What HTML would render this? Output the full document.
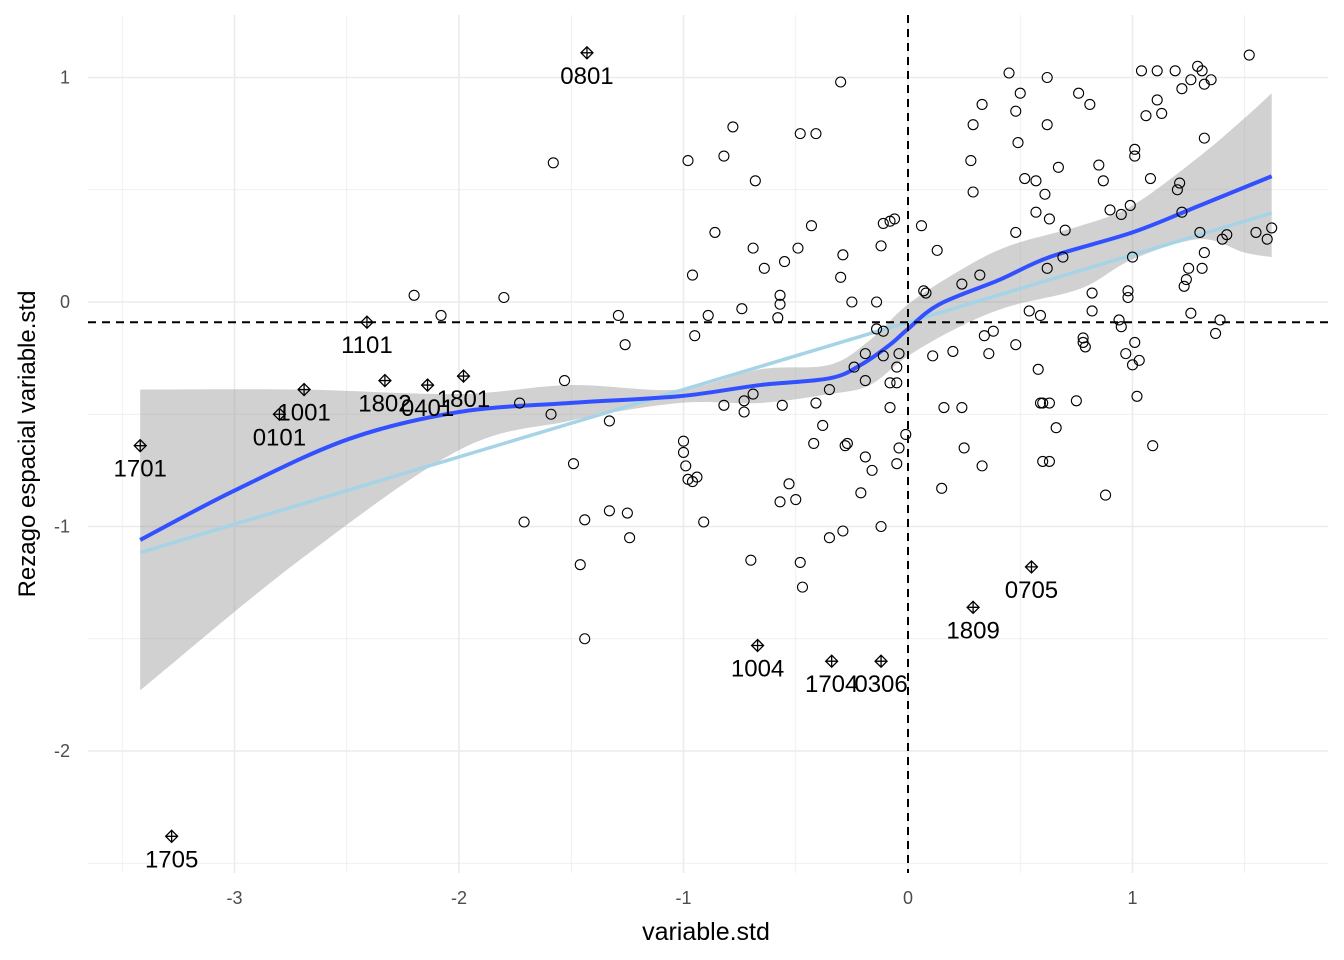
<!DOCTYPE html>
<html><head><meta charset="utf-8">
<style>
body{margin:0;background:#fff;}
svg{display:block;font-family:"Liberation Sans",Arial,sans-serif;}
</style></head>
<body>
<svg id="chart" width="1344" height="960" viewBox="0 0 1344 960" xmlns="http://www.w3.org/2000/svg">
<g id="grid"></g>
<g id="band"></g>
<g id="lines"></g>
<g id="pts"></g>
<g id="axes"></g>
<text x="706" y="940" font-size="25" text-anchor="middle" fill="#000">variable.std</text>
<text x="0" y="0" font-size="24" text-anchor="middle" fill="#000" transform="translate(35,444) rotate(-90)">Rezago espacial variable.std</text>
</svg>
<script>
const xTicks=[-3,-2,-1,0,1];
const yTicks=[1,0,-1,-2];
const ptsX=[-2.20,-2.08,-1.80,-1.58,-1.73,-1.59,-1.53,-1.49,-1.44,-1.46,-1.44,-1.71,-1.33,-1.29,-1.26,-1.25,-1.24,-1.33,-0.98,-0.96,-0.95,-1.00,-1.00,-0.99,-0.98,-0.96,-0.94,-0.91,-0.89,-0.86,-0.82,-0.82,-0.78,-0.74,-0.73,-0.73,-0.69,-0.70,-0.69,-0.68,-0.64,-0.58,-0.57,-0.57,-0.56,-0.57,-0.55,-0.53,-0.50,-0.49,-0.48,-0.47,-0.48,-0.43,-0.41,-0.42,-0.41,-0.38,-0.35,-0.35,-0.30,-0.30,-0.29,-0.29,-0.28,-0.27,-0.25,-0.24,-0.21,-0.19,-0.19,-0.19,-0.16,-0.14,-0.14,-0.12,-0.12,-0.11,-0.11,-0.11,-0.08,-0.08,-0.08,-0.06,-0.05,-0.04,-0.05,-0.04,-0.01,-0.05,0.06,0.07,0.08,0.11,0.13,0.16,0.15,0.20,0.24,0.24,0.25,0.28,0.29,0.29,0.32,0.33,0.34,0.33,0.36,0.38,0.45,0.48,0.48,0.48,0.49,0.50,0.52,0.54,0.57,0.57,0.59,0.58,0.59,0.60,0.60,0.61,0.62,0.62,0.62,0.63,0.63,0.63,0.66,0.67,0.69,0.70,0.75,0.76,0.78,0.79,0.78,0.81,0.82,0.82,0.85,0.87,0.88,0.90,0.94,0.95,0.95,0.97,0.98,0.98,0.99,1.01,1.01,1.01,1.02,1.03,1.00,1.00,1.04,1.06,1.08,1.09,1.11,1.11,1.13,1.19,1.20,1.21,1.22,1.22,1.23,1.24,1.25,1.26,1.26,1.29,1.30,1.31,1.31,1.32,1.32,1.32,1.35,1.37,1.39,1.40,1.42,1.52,1.55,1.60,1.62];
const ptsY=[0.03,-0.06,0.02,0.62,-0.45,-0.50,-0.35,-0.72,-0.97,-1.17,-1.50,-0.98,-0.53,-0.06,-0.19,-0.94,-1.05,-0.93,0.63,0.12,-0.15,-0.62,-0.67,-0.73,-0.79,-0.80,-0.78,-0.98,-0.06,0.31,0.65,-0.46,0.78,-0.03,-0.44,-0.49,-0.41,-1.15,0.24,0.54,0.15,-0.07,0.03,-0.01,-0.46,-0.89,0.18,-0.81,-0.88,0.24,-1.16,-1.27,0.75,0.34,0.75,-0.63,-0.45,-0.55,-0.39,-1.05,0.98,0.11,0.21,-1.02,-0.64,-0.63,0.00,-0.29,-0.85,-0.23,-0.35,-0.69,-0.75,-0.12,0.00,-1.00,0.25,0.35,-0.13,-0.24,-0.47,-0.36,0.36,0.37,-0.36,-0.23,-0.72,-0.65,-0.59,-0.29,0.34,0.05,0.04,-0.24,0.23,-0.47,-0.83,-0.22,-0.47,0.08,-0.65,0.63,0.79,0.49,0.12,0.88,-0.15,-0.73,-0.23,-0.13,1.02,0.85,0.31,-0.19,0.71,0.93,0.55,-0.04,0.54,0.40,-0.06,-0.30,-0.45,-0.45,-0.71,0.48,1.00,0.79,0.15,0.37,-0.71,-0.45,-0.56,0.60,0.20,0.32,-0.44,0.93,-0.18,-0.20,-0.16,0.88,0.04,-0.04,0.61,0.54,-0.86,0.41,-0.08,0.39,-0.11,-0.23,0.05,0.02,0.43,0.68,0.65,-0.18,-0.42,-0.26,-0.28,0.20,1.03,0.83,0.55,-0.64,1.03,0.90,0.84,1.03,0.50,0.53,0.40,0.95,0.07,0.10,0.15,-0.05,0.99,1.05,0.31,0.15,1.03,0.97,0.73,0.22,0.99,-0.14,-0.08,0.28,0.30,1.10,0.31,0.28,0.33];
const inflLabels=["0801","1101","1802","0401","1801","1001","0101","1701","1705","1004","1704","0306","1809","0705"];
const inflX=[-1.43,-2.41,-2.33,-2.14,-1.98,-2.69,-2.80,-3.42,-3.28,-0.67,-0.34,-0.12,0.29,0.55];
const inflY=[1.11,-0.09,-0.35,-0.37,-0.33,-0.39,-0.50,-0.64,-2.38,-1.53,-1.60,-1.60,-1.36,-1.18];
const loessX=[-3.42,-3.00,-2.49,-2.00,-1.51,-1.02,-0.66,-0.35,-0.21,-0.08,0,0.14,0.41,0.63,1.00,1.30,1.62];
const loessY=[-1.06,-0.84,-0.61,-0.49,-0.45,-0.42,-0.37,-0.34,-0.28,-0.19,-0.12,-0.01,0.10,0.20,0.31,0.43,0.56];
const bandX=[-3.42,-2.71,-2.00,-1.51,-1.02,-0.66,-0.35,-0.17,0,0.23,0.45,0.77,1.00,1.30,1.50,1.62];
const bandUpper=[-0.39,-0.39,-0.41,-0.37,-0.39,-0.30,-0.28,-0.17,-0.01,0.14,0.25,0.34,0.43,0.65,0.82,0.93];
const bandLower=[-1.73,-1.15,-0.66,-0.53,-0.45,-0.45,-0.41,-0.37,-0.24,-0.11,-0.02,0.06,0.19,0.28,0.22,0.20];
const linFit=[-0.09,0.30];
const linRange=[-3.42,1.62];
const meanLag=[-0.09];

const NS="http://www.w3.org/2000/svg";
const sx=v=>908+v*224.5, sy=v=>302-v*224.5;
const L=88,R=1328,T=15,B=873;
function mk(tag,attrs,parent){const e=document.createElementNS(NS,tag);for(const k in attrs)e.setAttribute(k,attrs[k]);document.getElementById(parent).appendChild(e);return e;}
function spline(P,start){let d=start?('M'+P[0][0]+','+P[0][1]):('L'+P[0][0]+','+P[0][1]);
for(let i=0;i<P.length-1;i++){const p0=P[Math.max(0,i-1)],p1=P[i],p2=P[i+1],p3=P[Math.min(P.length-1,i+2)];
const c1=[p1[0]+(p2[0]-p0[0])/6,p1[1]+(p2[1]-p0[1])/6],c2=[p2[0]-(p3[0]-p1[0])/6,p2[1]-(p3[1]-p1[1])/6];
d+='C'+c1[0]+','+c1[1]+' '+c2[0]+','+c2[1]+' '+p2[0]+','+p2[1];}return d;}
for(let v=-3.5;v<=1.5;v+=0.5){const g=mk('line',{x1:sx(v),x2:sx(v),y1:T,y2:B,stroke:'#ebebeb','stroke-width':Number.isInteger(v)?1.6:0.8},'grid');

}
for(let v=-2.5;v<=1;v+=0.5){const g=mk('line',{x1:L,x2:R,y1:sy(v),y2:sy(v),stroke:'#ebebeb','stroke-width':Number.isInteger(v)?1.6:0.8},'grid');

}
xTicks.forEach(v=>{const t=mk('text',{x:sx(v),y:904,'font-size':18,'text-anchor':'middle',fill:'#4d4d4d'},'axes');t.textContent=v;

});
yTicks.forEach(v=>{const t=mk('text',{x:70,y:sy(v)+6,'font-size':18,'text-anchor':'end',fill:'#4d4d4d'},'axes');t.textContent=v;

});
const up=bandX.map((x,i)=>[sx(x),sy(bandUpper[i])]);
const lw=bandX.map((x,i)=>[sx(x),sy(bandLower[i])]).reverse();
const bp=mk('path',{d:spline(up,true)+spline(lw,false)+'Z',fill:'#999',opacity:0.45},'band');


ptsX.forEach((x,i)=>{const c=mk('circle',{cx:sx(x),cy:sy(ptsY[i]),r:5,fill:'none',stroke:'#000','stroke-width':1.1},'pts');

});
inflX.forEach((x,i)=>{const cx=sx(x),cy=sy(inflY[i]);
const p=mk('path',{d:`M${cx},${cy-6}L${cx+6},${cy}L${cx},${cy+6}L${cx-6},${cy}Z M${cx},${cy-6}V${cy+6} M${cx-6},${cy}H${cx+6}`,fill:'none',stroke:'#000','stroke-width':1.3},'pts');


const t=mk('text',{x:cx,y:cy+31,'font-size':24,'text-anchor':'middle',fill:'#000'},'pts');t.textContent=inflLabels[i];

});
const lf=mk('line',{x1:sx(linRange[0]),y1:sy(linFit[0]+linFit[1]*linRange[0]),x2:sx(linRange[1]),y2:sy(linFit[0]+linFit[1]*linRange[1]),stroke:'#a6d4e6','stroke-width':3.5},'lines');


const lo=mk('path',{d:spline(loessX.map((x,i)=>[sx(x),sy(loessY[i])]),true),fill:'none',stroke:'#3350ff','stroke-width':4,'stroke-linejoin':'round'},'lines');


const h=mk('line',{x1:L,x2:R,y1:sy(meanLag[0]),y2:sy(meanLag[0]),stroke:'#000','stroke-width':2,'stroke-dasharray':'8,6'},'lines');


const v=mk('line',{x1:sx(0),x2:sx(0),y1:T,y2:B,stroke:'#000','stroke-width':2,'stroke-dasharray':'8,6'},'lines');


</script>
</body></html>
